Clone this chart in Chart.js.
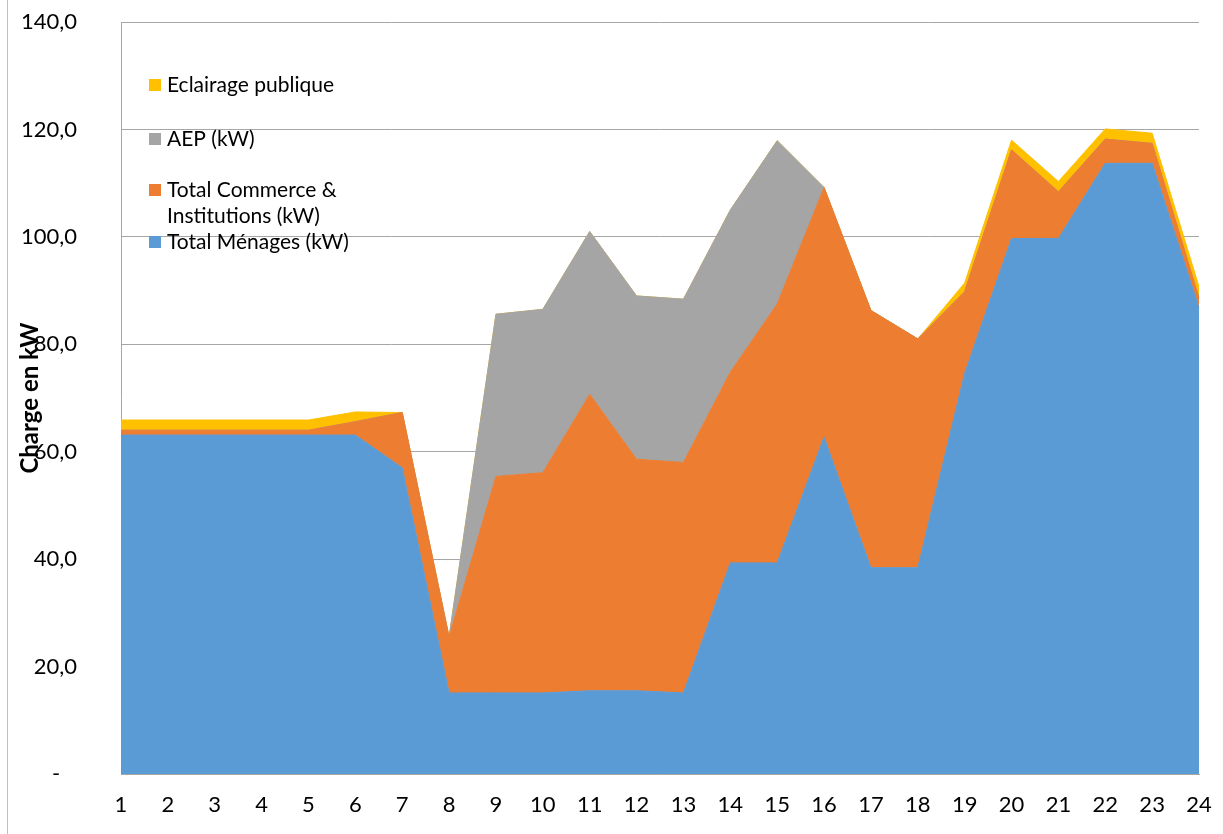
<!DOCTYPE html>
<html>
<head>
<meta charset="utf-8">
<script src="https://cdn.jsdelivr.net/npm/chart.js@4"></script>
<style>
  body { margin: 0; background: #fff; }
  #wrap { width: 1223px; height: 834px; position: relative; }
</style>
</head>
<body>
<div id="wrap"><canvas id="loadChart"></canvas></div>
<script>
const hours = ['1','2','3','4','5','6','7','8','9','10','11','12','13','14','15','16','17','18','19','20','21','22','23','24'];
const menages = [63.1, 63.1, 63.1, 63.1, 63.1, 63.1, 57.0, 15.1, 15.1, 15.1, 15.5, 15.5, 15.1, 39.3, 39.3, 62.7, 38.4, 38.4, 74.6, 99.7, 99.7, 113.7, 113.7, 86.8];
const commerce = [0.9, 0.9, 0.9, 0.9, 0.9, 2.5, 10.3, 10.4, 40.3, 41.0, 55.2, 43.1, 42.9, 35.5, 48.2, 46.5, 47.9, 42.6, 15.2, 16.5, 8.7, 4.5, 3.7, 1.8];
const aep = [0, 0, 0, 0, 0, 0, 0, 0, 30.2, 30.4, 30.3, 30.4, 30.4, 30.2, 30.4, 0, 0, 0, 0, 0, 0, 0, 0, 0];
const eclairage = [1.9, 1.9, 1.9, 1.9, 1.9, 1.8, 0, 0, 0, 0, 0, 0, 0, 0, 0, 0, 0, 0, 1.6, 1.8, 1.9, 1.9, 1.9, 2.1];

const FONT = 'Lato, "Open Sans", sans-serif';

// legend drawn inside the plot, top entry first (reverse stack order)
const legendRows = [
    { ds: 3, y: 85, lines: ['Eclairage publique'] },
    { ds: 2, y: 139, lines: ['AEP (kW)'] },
    { ds: 1, y: 190, lines: ['Total Commerce &', 'Institutions (kW)'] },
    { ds: 0, y: 242, lines: ['Total Ménages (kW)'] },
];

const extras = {
    id: 'extras',
    afterDraw(chart) {
        const ctx = chart.ctx;
        ctx.save();
        // outer frame line on the left
        ctx.strokeStyle = '#bfbfbf';
        ctx.lineWidth = 1;
        ctx.beginPath();
        ctx.moveTo(7.5, 0);
        ctx.lineTo(7.5, 834);
        ctx.stroke();

        // legend
        ctx.font = '21px ' + FONT;
        ctx.textBaseline = 'middle';
        ctx.textAlign = 'left';
        legendRows.forEach(r => {
            const d = chart.data.datasets[r.ds];
            ctx.fillStyle = d.backgroundColor;
            ctx.fillRect(149, r.y - 6, 12, 12);
            ctx.fillStyle = '#000';
            r.lines.forEach((t, i) => ctx.fillText(t, 167, r.y + i * 26));
        });

        // y axis title, overlapping the tick labels like the original
        ctx.translate(30, 398);
        ctx.rotate(-Math.PI / 2);
        ctx.textAlign = 'center';
        ctx.font = 'bold 24px ' + FONT;
        ctx.fillText('Charge en kW', 0, 0);
        ctx.restore();
    }
};

new Chart(document.getElementById('loadChart'), {
    type: 'line',
    data: {
        labels: hours,
        datasets: [
            { label: 'Total Ménages (kW)', data: menages, backgroundColor: '#5b9bd5', borderColor: '#5b9bd5', fill: 'origin' },
            { label: 'Total Commerce & Institutions (kW)', data: commerce, backgroundColor: '#ed7d31', borderColor: '#ed7d31', fill: '-1' },
            { label: 'AEP (kW)', data: aep, backgroundColor: '#a5a5a5', borderColor: '#a5a5a5', fill: '-1' },
            { label: 'Eclairage publique', data: eclairage, backgroundColor: '#ffc000', borderColor: '#ffc000', fill: '-1' },
        ]
    },
    options: {
        responsive: true,
        maintainAspectRatio: false,
        animation: false,
        elements: { point: { radius: 0 }, line: { borderWidth: 1, tension: 0 } },
        layout: { padding: { top: 22, right: 24, left: 0, bottom: 0 } },
        plugins: { legend: { display: false }, tooltip: { enabled: false } },
        scales: {
            x: {
                offset: false,
                grid: { display: false, drawTicks: true, tickLength: 18, tickColor: 'transparent' },
                border: { color: '#a6a6a6' },
                ticks: { color: '#000', font: { family: FONT, size: 22 }, padding: 0, maxRotation: 0, autoSkip: false },
                afterFit: s => { s.height = 60; }
            },
            y: {
                stacked: true,
                min: 0,
                max: 140,
                grid: { color: '#a6a6a6', drawTicks: true, tickLength: 44, tickColor: 'transparent' },
                border: { color: '#a6a6a6' },
                ticks: {
                    stepSize: 20,
                    color: '#000',
                    padding: 0,
                    font: { family: FONT, size: 22 },
                    callback: v => v === 0 ? '-   ' : v.toFixed(1).replace('.', ',')
                },
                afterFit: s => { s.width = 121; }
            }
        }
    },
    plugins: [extras]
});
</script>
</body>
</html>
